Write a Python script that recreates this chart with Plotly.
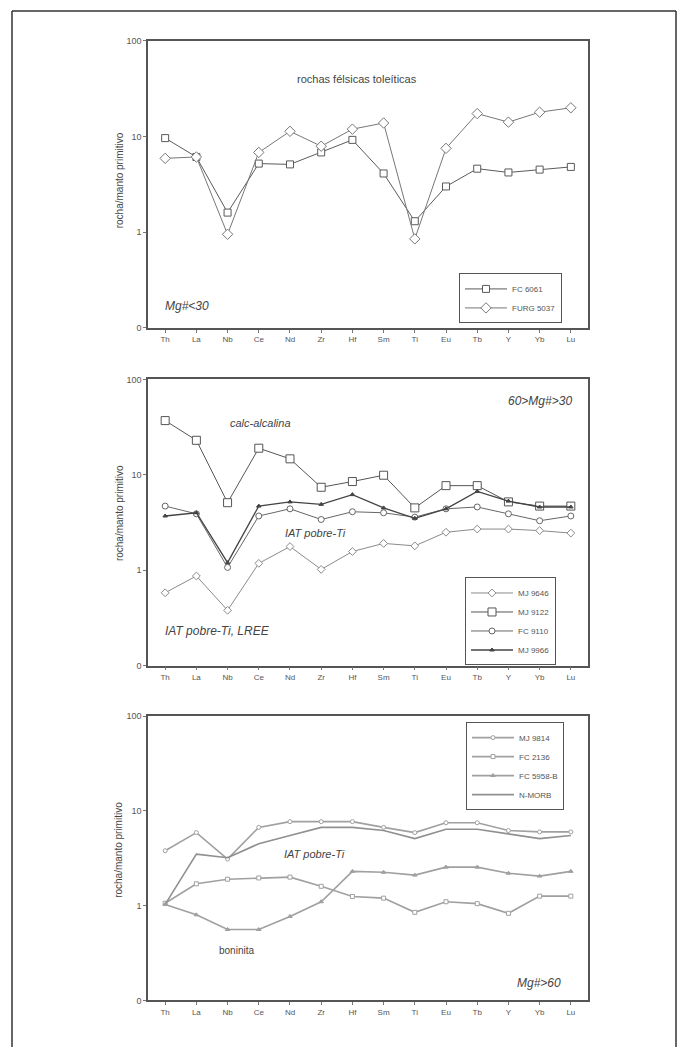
import plotly.graph_objects as go

W, H = 686, 1047

elements = ["Th", "La", "Nb", "Ce", "Nd", "Zr", "Hf", "Sm", "Ti", "Eu", "Tb", "Y", "Yb", "Lu"]

# Panel 1 : Mg# < 30
fc6061 = [9.6, 6.1, 1.6, 5.2, 5.1, 6.8, 9.2, 4.1, 1.3, 3.0, 4.6, 4.2, 4.5, 4.8]
furg5037 = [5.9, 6.1, 0.95, 6.8, 11.3, 7.9, 11.9, 13.8, 0.85, 7.5, 17.3, 14.1, 17.9, 19.9]

# Panel 2 : 60 > Mg# > 30
mj9646 = [0.58, 0.87, 0.38, 1.18, 1.77, 1.02, 1.57, 1.91, 1.8, 2.5, 2.7, 2.7, 2.6, 2.45]
mj9122 = [37, 23, 5.1, 19, 14.7, 7.4, 8.5, 9.9, 4.5, 7.7, 7.7, 5.2, 4.7, 4.7]
fc9110 = [4.7, 3.9, 1.07, 3.7, 4.4, 3.4, 4.1, 4.0, 3.6, 4.4, 4.6, 3.9, 3.3, 3.7]
mj9966 = [3.7, 4.0, 1.2, 4.7, 5.2, 4.9, 6.2, 4.5, 3.5, 4.4, 6.7, 5.3, 4.6, 4.6]

# Panel 3 : Mg# > 60
mj9814 = [3.8, 5.9, 3.1, 6.7, 7.7, 7.7, 7.7, 6.7, 5.9, 7.5, 7.5, 6.2, 6.0, 6.0]
fc2136 = [1.06, 1.7, 1.9, 1.96, 2.0, 1.6, 1.25, 1.2, 0.85, 1.1, 1.05, 0.83, 1.26, 1.26]
fc5958b = [1.03, 0.8, 0.56, 0.56, 0.77, 1.1, 2.3, 2.25, 2.1, 2.55, 2.55, 2.2, 2.05, 2.3]
nmorb = [1.03, 3.5, 3.2, 4.5, 5.5, 6.7, 6.7, 6.2, 5.1, 6.4, 6.4, 5.7, 5.1, 5.5]

ytickvals = [0.1, 1, 10, 100]
yticktext = ["0", "1", "10", "100"]

FONT = "Liberation Sans, Arial, sans-serif"
TXT = "#444"


def px(x):
    return x / W


def py(y):
    return 1 - y / H


fig = go.Figure()


def add(name, y, panel, symbol, color, lw=1, msize=7, mode="lines+markers", mfill="white"):
    suffix = "" if panel == 1 else str(panel)
    fig.add_trace(go.Scatter(
        x=elements, y=y, name=name, mode=mode,
        xaxis="x" + suffix, yaxis="y" + suffix,
        legend="legend" + suffix,
        line=dict(color=color, width=lw),
        marker=dict(symbol=symbol, size=msize, color=mfill,
                    line=dict(color=color, width=1)),
    ))


add("FC 6061", fc6061, 1, "square", "#5a5a5a")
add("FURG 5037", furg5037, 1, "diamond", "#777777", msize=8)

add("MJ 9646", mj9646, 2, "diamond", "#8a8a8a", msize=6)
add("MJ 9122", mj9122, 2, "square", "#555555", msize=8)
add("FC 9110", fc9110, 2, "circle", "#666666", msize=6)
add("MJ 9966", mj9966, 2, "triangle-up", "#444444", lw=1.3, msize=4, mfill="#444444")

add("MJ 9814", mj9814, 3, "circle", "#a0a0a0", lw=1.6, msize=4)
add("FC 2136", fc2136, 3, "square", "#a0a0a0", lw=1.6, msize=4)
add("FC 5958-B", fc5958b, 3, "triangle-up", "#a0a0a0", lw=1.6, msize=4, mfill="#a0a0a0")
add("N-MORB", nmorb, 3, "circle", "#909090", lw=1.6, mode="lines")

xdom = [px(148), px(588)]
panels = [(36, 326), (378, 667), (718, 1005)]

layout = dict(
    width=W, height=H,
    margin=dict(l=0, r=0, t=0, b=0),
    paper_bgcolor="white", plot_bgcolor="white",
    font=dict(family=FONT, color=TXT, size=9),
    showlegend=True,
)

for i, (top, bot) in enumerate(panels):
    s = "" if i == 0 else str(i + 1)
    layout["xaxis" + s] = dict(
        domain=xdom, anchor="y" + s, type="category",
        range=[-0.55, 13.55],
        showline=True, linecolor="#555", linewidth=1.5, mirror=True,
        ticks="outside", ticklen=3, tickcolor="#777",
        tickfont=dict(size=8, color="#555"),
        showgrid=False, zeroline=False,
    )
    layout["yaxis" + s] = dict(
        domain=[py(bot), py(top)], anchor="x" + s, type="log",
        range=[-1, 2], tickvals=ytickvals, ticktext=yticktext,
        showline=True, linecolor="#555", linewidth=1.5, mirror=True,
        ticks="outside", ticklen=3, tickcolor="#777",
        tickfont=dict(size=9, color="#555"),
        showgrid=False, zeroline=False,
    )

leg_common = dict(
    bgcolor="white", bordercolor="#555", borderwidth=1,
    font=dict(size=8, color="#555", family=FONT),
    xanchor="left", yanchor="top", tracegroupgap=0,
    itemwidth=42,
)
layout["legend"] = dict(leg_common, x=px(459), y=py(271))
layout["legend2"] = dict(leg_common, x=px(465), y=py(578))
layout["legend3"] = dict(leg_common, x=px(466), y=py(724))

fig.update_layout(**layout)

ann = []


def note(text, x, y, size=11, italic=True, xanchor="center", angle=0):
    t = f"<i>{text}</i>" if italic else text
    ann.append(dict(text=t, x=px(x), y=py(y), xref="paper", yref="paper",
                    showarrow=False, xanchor=xanchor, yanchor="middle",
                    textangle=angle, font=dict(size=size, color=TXT, family=FONT)))


note("rochas félsicas toleíticas", 357, 75, size=11, italic=False)
note("Mg#<30", 163, 304, size=12, xanchor="left")
note("60>Mg#>30", 574, 400, size=12, xanchor="right")
note("calc-alcalina", 228, 422, size=11, xanchor="left")
note("IAT pobre-Ti", 283, 533, size=11, xanchor="left")
note("IAT pobre-Ti, LREE", 163, 632, size=12, xanchor="left")
note("IAT pobre-Ti", 282, 857, size=11, xanchor="left")
note("boninita", 217, 955, size=10, italic=False, xanchor="left")
note("Mg#>60", 563, 987, size=12, xanchor="right")

for yc in [177, 513, 853]:
    note("rocha/manto primitivo", 119, yc, size=10, italic=False, angle=-90)

fig.update_layout(annotations=ann)

# outer frame (open at the bottom)
frame = dict(type="line", xref="paper", yref="paper", line=dict(color="#333", width=1.5))
fig.update_layout(shapes=[
    dict(frame, x0=px(12), x1=px(12), y0=py(6), y1=-0.01),
    dict(frame, x0=px(12), x1=px(676), y0=py(6), y1=py(6)),
    dict(frame, x0=px(676), x1=px(676), y0=py(6), y1=-0.01),
])

fig.write_html("out.html")
